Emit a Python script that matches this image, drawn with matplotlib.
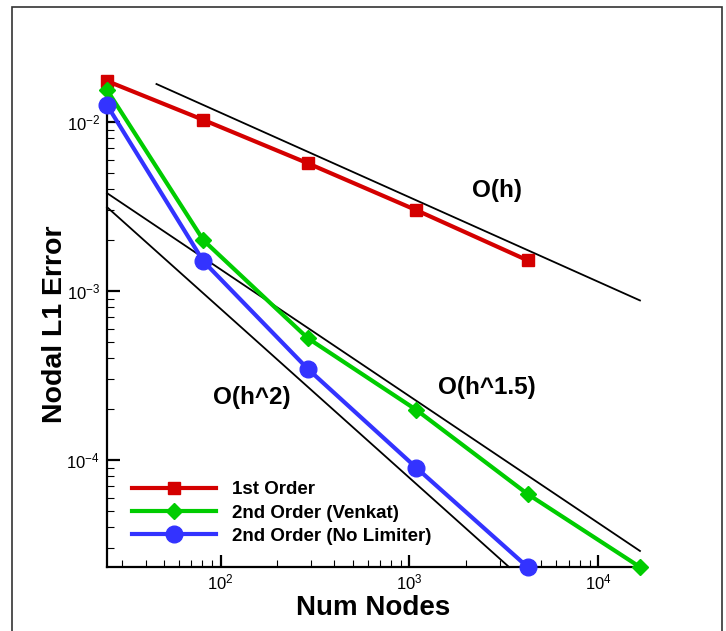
import numpy as np
import matplotlib
matplotlib.use('Agg')
import matplotlib.pyplot as plt
from matplotlib.patches import Rectangle

plt.rcParams['font.family'] = ['Liberation Sans', 'DejaVu Sans']
plt.rcParams['mathtext.fontset'] = 'custom'
plt.rcParams['mathtext.rm'] = 'Liberation Sans'
plt.rcParams['mathtext.it'] = 'Liberation Sans'

nodes = [25, 81, 289, 1089, 4225, 16641]
err_first = [0.0175, 0.0103, 0.00571, 0.00301, 0.00152]
err_venkat = [0.0155, 0.0020, 0.000527, 0.000198, 6.3e-5, 2.33e-5]
err_nolim = [0.0126, 0.0015, 0.000347, 9.0e-5, 2.33e-5]

# reference slopes: (start x, start y, end x, slope)
ref_h = (45.7, 0.0168, 16641, -0.5)
ref_h15 = (25, 0.0038, 16641, -0.75)
ref_h2 = (25, 0.00314, 3370, -1.0)

# labels of the slopes, in data coordinates
slope_labels = ['O(h)', 'O(h^1.5)', 'O(h^2)']
slope_label_x = [2900, 2570, 146]
slope_label_y = [0.00396, 0.00027, 0.000236]

fig = plt.figure(figsize=(7.26, 6.31), dpi=100)
ax = fig.add_axes([0.1474, 0.1014, 0.7341, 0.7702])

fig.patches.append(Rectangle((12 / 726, -0.05), 710 / 726, 1.05 - 7 / 631,
                             transform=fig.transFigure, fill=False,
                             edgecolor='#333333', linewidth=1.2))

for x0, y0, x1, s in [ref_h, ref_h15, ref_h2]:
    xs = np.array([x0, x1])
    ax.plot(xs, y0 * (xs / x0) ** s, color='black', linewidth=1.3, clip_on=False)

ax.plot(nodes[:5], err_first, color='#d40000', linewidth=3, marker='s',
        markersize=9, label='1st Order', clip_on=False, zorder=5)
ax.plot(nodes, err_venkat, color='#00cc00', linewidth=3, marker='D',
        markersize=8, label='2nd Order (Venkat)', clip_on=False, zorder=5)
ax.plot(nodes[:5], err_nolim, color='#3333ff', linewidth=3, marker='o',
        markersize=12, label='2nd Order (No Limiter)', clip_on=False, zorder=5)

ax.set_xscale('log')
ax.set_yscale('log')
ax.set_xlim(25, 16641)
ax.set_ylim(2.33e-5, 0.0175)

ax.spines['top'].set_visible(False)
ax.spines['right'].set_visible(False)
ax.spines['left'].set_linewidth(1.6)
ax.spines['bottom'].set_linewidth(1.6)
ax.tick_params(which='major', direction='in', length=9, width=1.6,
               labelsize=12, pad=5)
ax.tick_params(which='minor', direction='in', length=5, width=0.8)
ax.tick_params(axis='x', which='major', pad=4)

ax.set_xlabel('Num Nodes', fontsize=20, fontweight='bold', labelpad=2)
ax.set_ylabel('Nodal L1 Error', fontsize=20.5, fontweight='bold')
ax.yaxis.set_label_coords(-0.073, 0.5)

for t, x, y in zip(slope_labels, slope_label_x, slope_label_y):
    ax.text(x, y, t, fontsize=17.5, fontweight='bold', ha='center', va='center')

leg = ax.legend(loc='center left', bbox_to_anchor=(0.033, 0.111),
                borderaxespad=0, frameon=False,
                prop={'weight': 'bold', 'size': 13.5}, handlelength=4.5,
                labelspacing=0.33, handletextpad=0.85)

fig.savefig('out.png', dpi=100)
